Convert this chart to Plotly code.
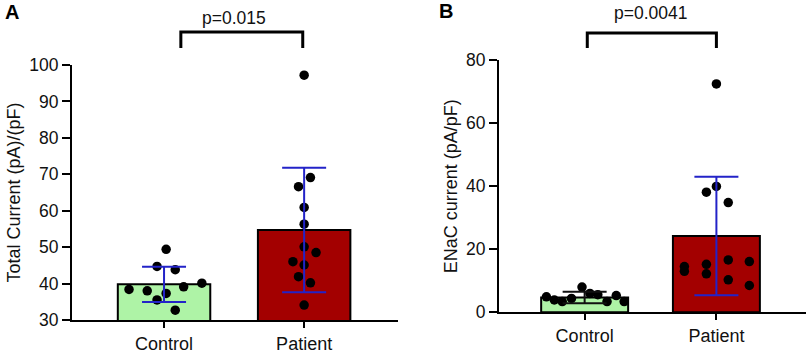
import plotly.graph_objects as go

categories = ["Control", "Patient"]

# Panel A: Total current (pA)/(pF)
a_means = [39.8, 54.7]
a_sd = [4.85, 17.1]
a_control = [38.4, 38.0, 35.5, 37.3, 44.7, 43.8, 49.4, 39.1, 40.1, 32.7]
a_control_jit = [-0.25, -0.12, -0.05, 0.015, -0.05, 0.08, 0.015, 0.14, 0.27, 0.08]
a_patient = [97.2, 66.6, 69.1, 60.9, 56.3, 50.1, 48.5, 46.0, 45.1, 41.9, 40.2, 34.1]
a_patient_jit = [0, -0.04, 0.045, 0, 0, 0, 0.085, -0.08, 0, -0.04, 0.045, 0]

# Panel B: ENaC current (pA/pF)
b_means = [4.7, 24.2]
b_sd = [1.8, 18.8]
b_control = [4.9, 3.9, 3.4, 4.4, 8.0, 6.0, 5.6, 3.4, 5.3, 3.4]
b_control_jit = [-0.29, -0.23, -0.17, -0.1, -0.02, 0.04, 0.1, 0.17, 0.24, 0.3]
b_patient = [72.4, 38.1, 39.9, 34.8, 14.5, 13.0, 15.2, 12.2, 16.6, 10.3, 16.1, 8.5]
b_patient_jit = [0, -0.076, 0, 0.09, -0.243, -0.243, -0.076, -0.076, 0.09, 0.09, 0.25, 0.25]

p_texts = ["p=0.015", "p=0.0041"]
panel_labels = ["A", "B"]
y_titles = ["Total Current (pA)/(pF)", "ENaC current (pA/pF)"]

GREEN = "#aef3a6"
RED = "#a30000"
BLUE = "#2323c8"
FONT = "Liberation Sans, Arial, sans-serif"

fig = go.Figure()

def add_panel(xa, ya, means, sd, ctrl, ctrl_j, pat, pat_j, err_colors):
    fig.add_trace(go.Bar(x=[0, 1], y=means, width=0.66,
                         marker=dict(color=[GREEN, RED], line=dict(color="black", width=2)),
                         xaxis=xa, yaxis=ya, showlegend=False))
    fig.add_trace(go.Scatter(x=[j for j in ctrl_j], y=ctrl, mode="markers",
                             marker=dict(color="black", size=9.5),
                             xaxis=xa, yaxis=ya, showlegend=False))
    fig.add_trace(go.Scatter(x=[1 + j for j in pat_j], y=pat, mode="markers",
                             marker=dict(color="black", size=9.5),
                             xaxis=xa, yaxis=ya, showlegend=False))
    for i in range(2):
        fig.add_trace(go.Scatter(x=[i], y=[means[i]], mode="markers",
                                 marker=dict(color="rgba(0,0,0,0)", size=1),
                                 error_y=dict(type="data", array=[sd[i]], visible=True,
                                              color=err_colors[i], thickness=2, width=22),
                                 xaxis=xa, yaxis=ya, showlegend=False))

add_panel("x", "y", a_means, a_sd, a_control, a_control_jit, a_patient, a_patient_jit, [BLUE, BLUE])
add_panel("x2", "y2", b_means, b_sd, b_control, b_control_jit, b_patient, b_patient_jit, ["#101010", BLUE])

xcommon = dict(tickvals=[0, 1], ticktext=categories, showline=True, linecolor="black",
               linewidth=2, ticks="outside", ticklen=6, tickwidth=2, tickcolor="black",
               showgrid=False, zeroline=False, automargin=False,
               tickfont=dict(size=18, color="#111", family=FONT))
ycommon = dict(showline=True, linecolor="black", linewidth=2, ticks="outside", ticklen=8,
               tickwidth=2, tickcolor="black", showgrid=False, zeroline=False, automargin=False,
               tickfont=dict(size=17.5, color="#111", family=FONT))

fig.update_layout(
    width=810, height=353,
    margin=dict(l=0, r=0, t=0, b=0),
    plot_bgcolor="white", paper_bgcolor="white",
    font=dict(family=FONT, color="#111"),
    xaxis=dict(domain=[72/810, 398/810], range=[-0.657, 1.67], **xcommon),
    yaxis=dict(domain=[1-320/353, 1-65/353], range=[30, 100], tickvals=[30, 40, 50, 60, 70, 80, 90, 100],
               title=dict(text=y_titles[0], font=dict(size=18, family=FONT), standoff=4), **ycommon),
    xaxis2=dict(domain=[499/810, 806/810], range=[-0.65, 1.68], anchor="y2", **xcommon),
    yaxis2=dict(domain=[1-312.3/353, 1-60/353], range=[0, 80], tickvals=[0, 20, 40, 60, 80], anchor="x2",
                title=dict(text=y_titles[1], font=dict(size=18, family=FONT), standoff=4), **ycommon),
)

# significance brackets
brackets = [("x", 32/353, 48/353, p_texts[0], 18/353), ("x2", 33/353, 48/353, p_texts[1], 13/353)]
for xr, ytop, ybot, txt, ytxt in brackets:
    yt = 1 - ytop
    yb = 1 - ybot
    fig.add_shape(type="path", xref=xr, yref="paper",
                  path=f"M 0.12,{yb} L 0.12,{yt} L 0.99,{yt} L 0.99,{yb}" if xr == "x" else
                       f"M 0.02,{yb} L 0.02,{yt} L 1.0,{yt} L 1.0,{yb}",
                  line=dict(color="black", width=3))
    fig.add_annotation(x=0.5, y=1 - ytxt, xref=xr, yref="paper", text=txt, showarrow=False,
                       font=dict(size=17.5, family=FONT, color="#111"), xanchor="center", yanchor="middle")

fig.add_annotation(x=3/810, y=1 - 12/353, xref="paper", yref="paper", text="<b>A</b>", showarrow=False,
                   font=dict(size=20, family=FONT, color="black"), xanchor="left", yanchor="middle")
fig.add_annotation(x=437/810, y=1 - 11/353, xref="paper", yref="paper", text="<b>B</b>", showarrow=False,
                   font=dict(size=20, family=FONT, color="black"), xanchor="left", yanchor="middle")

fig.write_html("out.html", config={"displayModeBar": False},
               post_script="document.body.style.margin='0';document.body.style.overflow='hidden';")
